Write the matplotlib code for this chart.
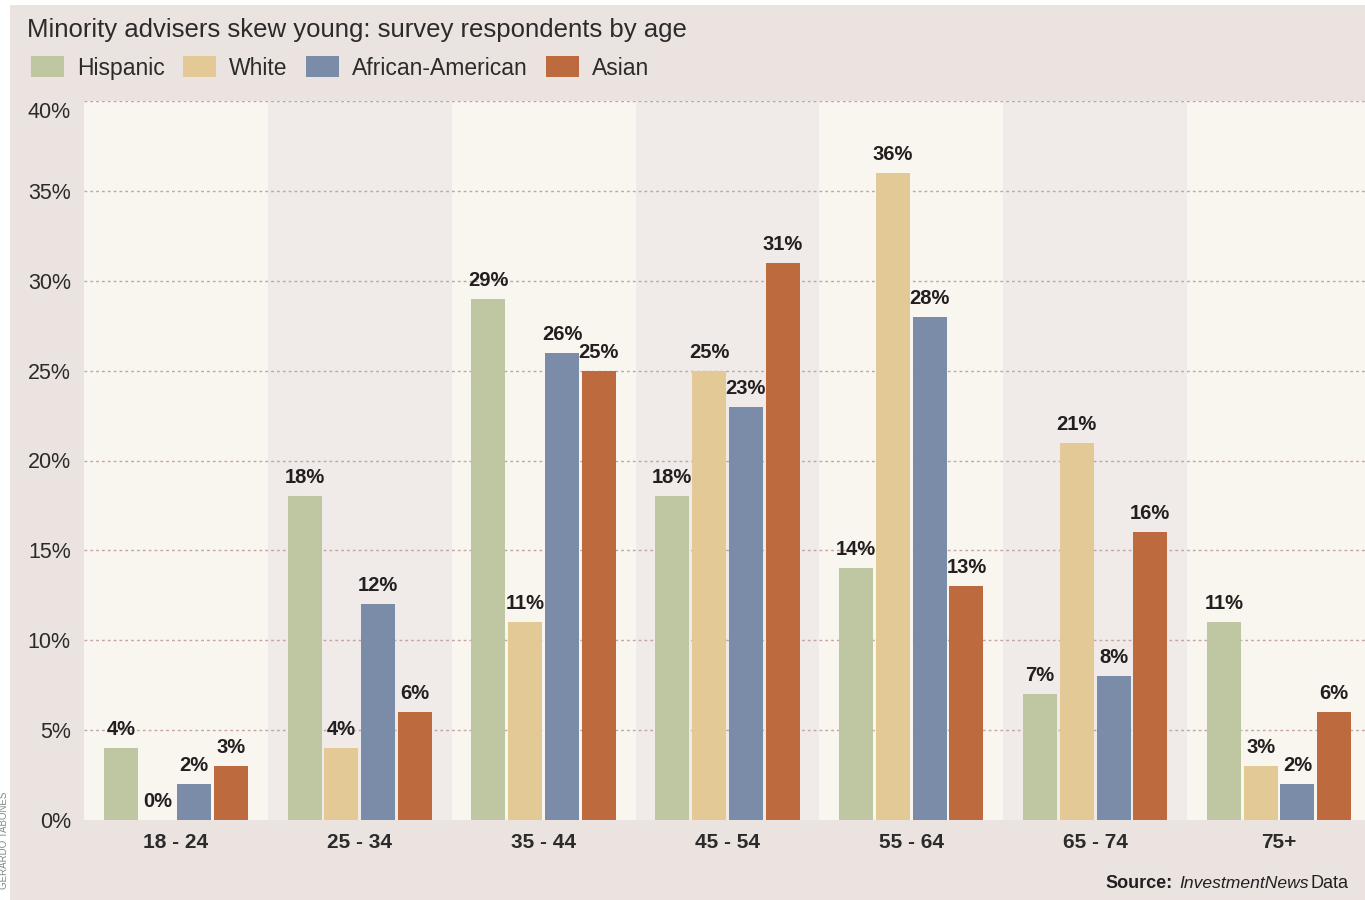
import numpy as np
import matplotlib.pyplot as plt
import matplotlib.patches as mpatches
import matplotlib.transforms as mtransforms
from matplotlib import font_manager

ages = ['18 - 24', '25 - 34', '35 - 44', '45 - 54', '55 - 64', '65 - 74', '75+']
hispanic = [4, 18, 29, 18, 14, 7, 11]
white = [0, 4, 11, 25, 36, 21, 3]
african_american = [2, 12, 26, 23, 28, 8, 2]
asian = [3, 6, 25, 31, 13, 16, 6]
series_names = ['Hispanic', 'White', 'African-American', 'Asian']
colors = ['#bec6a2', '#e3c996', '#7b8ca8', '#bd6b3e']

names = [f.name for f in font_manager.fontManager.ttflist]
main_font = 'Liberation Sans' if 'Liberation Sans' in names else 'DejaVu Sans'
narrow_font = 'Liberation Sans Narrow' if 'Liberation Sans Narrow' in names else main_font

plt.rcParams['font.family'] = main_font

W, H = 1365, 900
fig = plt.figure(figsize=(W/100, H/100), dpi=100)
fig.patch.set_facecolor('white')
# panel background (thin white strip left and top as in the print)
fig.patches.append(mpatches.Rectangle((10/W, 0), 1, 1 - 5/H, transform=fig.transFigure,
                                      facecolor='#ebe3e0', edgecolor='none', zorder=-10))

ax = fig.add_axes([84/W, 1 - 820/H, 1 - 84/W, (820 - 101)/H])
ax.set_zorder(1)
ax.set_facecolor('none')

x = np.arange(len(ages))
ax.set_xlim(-0.5, 6.468)
ax.set_ylim(0, 40)

# alternating column bands
for i in x:
    ax.axvspan(i - 0.5, i + 0.5, color='#f9f6f0' if i % 2 == 0 else '#f0ebe8', zorder=0, lw=0)

for yv in range(5, 45, 5):
    ax.axhline(yv, color='#c4a3a3', lw=1.0, ls=(0, (2, 2.2)), zorder=1)

data = [hispanic, white, african_american, asian]
offsets = [-0.3, -0.1, 0.1, 0.3]
bw = 0.185
for vals, off, c, name in zip(data, offsets, colors, series_names):
    ax.bar(x + off, vals, width=bw, color=c, zorder=2, label=name)
    for xi, v in zip(x + off, vals):
        ax.text(xi, v + 0.5, '%d%%' % v, ha='center', va='bottom', fontsize=14.5,
                fontweight='bold', family=narrow_font, color='#231f20', zorder=3)

for s in ax.spines.values():
    s.set_visible(False)
ax.set_yticks(range(0, 45, 5))
ax.set_yticklabels(['%d%%' % v for v in range(0, 45, 5)], fontsize=15.5, color='#2b2b2b')
ax.set_xticks(x)
ax.set_xticklabels(ages, fontsize=15, fontweight='bold', color='#2b2b2b')
ax.tick_params(axis='both', length=0)
ax.tick_params(axis='y', pad=9.5)
ax.tick_params(axis='x', pad=9)
# top label sits a bit below its gridline in the original
top_lbl = ax.get_yticklabels()[-1]
top_lbl.set_transform(top_lbl.get_transform() +
                      mtransforms.ScaledTranslation(0, -9/100, fig.dpi_scale_trans))

fig.text(27/W, 1 - 30/H, 'Minority advisers skew young: survey respondents by age',
         fontsize=18.5, color='#2b2b2b', va='center', ha='left')

leg = fig.legend(loc='center left', bbox_to_anchor=(22/W, 1 - 68/H), ncol=4, frameon=False,
                 fontsize=16.5, handlelength=1.45, handleheight=1.0, handletextpad=0.55,
                 columnspacing=0.8, borderaxespad=0)
for t in leg.get_texts():
    t.set_color('#2b2b2b')

fig.text(1105/W, 1 - 883/H, 'Source:', fontsize=13, fontweight='bold', color='#231f20', va='center')
fig.text(1179/W, 1 - 883/H, 'InvestmentNews', fontsize=12.6, style='italic', color='#231f20', va='center')
fig.text(1311/W, 1 - 883/H, 'Data', fontsize=13, color='#231f20', va='center')

fig.text(4/W, 1 - 840/H, 'GERARDO TABONES', rotation=90, fontsize=7, color='#888888',
         va='center', ha='center')

fig.savefig('out.png', dpi=100, facecolor=fig.get_facecolor())
